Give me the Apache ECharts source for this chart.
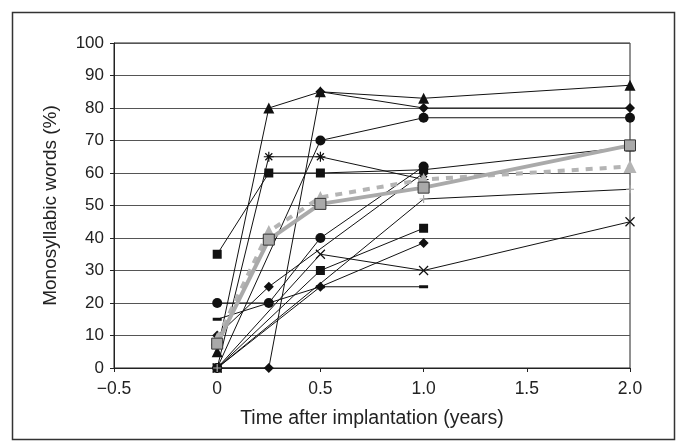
<!DOCTYPE html>
<html><head><meta charset="utf-8">
<script src="https://cdn.jsdelivr.net/npm/echarts@6/dist/echarts.min.js"></script>
<style>html,body{margin:0;padding:0;background:#fff}#c{width:681px;height:448px}</style>
</head><body><div id="c"></div>
<script>
// time points (years)
const times = [0, 0.25, 0.5, 1.0, 2.0];
// individual patients (null = not measured)
const pTriangle  = [5, 80, 85, 83, 87];
const pDiamondA  = [0, 0, 85, 80, 80];
const pCircleA   = [0, null, 70, 77, 77];
const pAsterisk  = [0, 65, 65, 58, null];
const pSquareA   = [35, 60, 60, 61, 68];
const pCircleB   = [20, 20, 40, 62, null];
const pCross     = [0, null, 35, 30, 45];
const pDiamondB  = [10, 25, null, 60, null];
const pDiamondC  = [0, null, 25, 38.5, null];
const pSquareB   = [0, null, 30, 43, null];
const pDash      = [15, null, 25, 25, null];
const pPlus      = [0, null, null, 52, 55];
// group summaries
const meanVals   = [7.5, 39.5, 50.5, 55.5, 68.5];
const dashedVals = [9, 42, 52.5, 58, 62];
// axis ticks
const xTicks = [-0.5, 0, 0.5, 1.0, 1.5, 2.0];
const yTicks = [0, 10, 20, 30, 40, 50, 60, 70, 80, 90, 100];

const pair = arr => times.map((t, i) => arr[i] == null ? null : [t, arr[i]]).filter(d => d);

const SYM = {
  asterisk: 'path://M5,0L5,10M0,5L10,5M1.5,1.5L8.5,8.5M8.5,1.5L1.5,8.5',
  cross: 'path://M0,0L10,10M10,0L0,10',
  plus: 'path://M5,0L5,10M0,5L10,5'
};
const FONT = 'Liberation Sans, Arial, Helvetica, sans-serif';

function patient(arr, symbol, size, strokeOnly, col) {
  const c = col || '#111';
  return {
    type: 'line', data: pair(arr), symbol: symbol, symbolSize: size,
    lineStyle: { color: '#111', width: 1 },
    itemStyle: strokeOnly ? { color: 'rgba(0,0,0,0)', borderColor: c, borderWidth: 1.2 } : { color: c, borderWidth: 0 },
    z: 2, animation: false, showSymbol: true
  };
}

const series = [
  patient(pTriangle, 'triangle', 11),
  patient(pDiamondA, 'diamond', 10),
  patient(pCircleA, 'circle', 10),
  patient(pAsterisk, SYM.asterisk, 10, true),
  patient(pSquareA, 'rect', 9),
  patient(pCircleB, 'circle', 10),
  patient(pCross, SYM.cross, 9, true),
  patient(pDiamondB, 'diamond', 10),
  patient(pDiamondC, 'diamond', 10),
  patient(pSquareB, 'rect', 9),
  patient(pDash, 'rect', [9, 3]),
  patient(pPlus, SYM.plus, 8, true, '#aaa'),
  {
    type: 'line', data: pair(dashedVals), symbol: 'triangle', symbolSize: 13,
    lineStyle: { color: '#b4b4b4', width: 4, type: [7, 7] },
    itemStyle: { color: '#b4b4b4', borderWidth: 0 }, z: 4, animation: false
  },
  {
    type: 'line', data: pair(meanVals), symbol: 'rect', symbolSize: 11,
    lineStyle: { color: '#aaaaaa', width: 4 },
    itemStyle: { color: '#a9a9a9', borderColor: '#333', borderWidth: 1 }, z: 5, animation: false
  }
];

const chart = echarts.init(document.getElementById('c'), null, { renderer: 'canvas' });
chart.setOption({
  animation: false,
  backgroundColor: '#fff',
  graphic: [{
    type: 'rect', shape: { x: 12.5, y: 12.5, width: 662, height: 427 },
    style: { fill: 'none', stroke: '#333', lineWidth: 1.5 }, z: 0
  }],
  grid: { left: 114, right: 51, top: 43, bottom: 80, show: true, borderColor: '#222', borderWidth: 1 },
  xAxis: {
    type: 'value', min: xTicks[0], max: xTicks[xTicks.length - 1], interval: 0.5,
    name: 'Time after implantation (years)', nameLocation: 'middle', nameGap: 41,
    nameTextStyle: { fontFamily: FONT, fontSize: 19.5, color: '#222' },
    axisLine: { onZero: false, lineStyle: { color: '#222', width: 1 } },
    axisTick: { show: true, inside: false, length: 4, lineStyle: { color: '#222' } },
    splitLine: { show: false },
    axisLabel: {
      fontFamily: FONT, fontSize: 17.5, color: '#222', margin: 12,
      formatter: v => v === 0 ? '0' : (v < 0 ? '\u2212' : '') + Math.abs(v).toFixed(1)
    }
  },
  yAxis: {
    type: 'value', min: yTicks[0], max: yTicks[yTicks.length - 1], interval: 10,
    name: 'Monosyllabic words (%)', nameLocation: 'middle', nameGap: 54,
    nameTextStyle: { fontFamily: FONT, fontSize: 19, color: '#222' },
    axisLine: { show: true, onZero: false, lineStyle: { color: '#222', width: 1 } },
    axisTick: { show: true, inside: false, length: 4, lineStyle: { color: '#222' } },
    splitLine: { show: true, lineStyle: { color: '#555', width: 1 } },
    axisLabel: { fontFamily: FONT, fontSize: 17, color: '#222', margin: 10 }
  },
  series: series
});
</script></body></html>
